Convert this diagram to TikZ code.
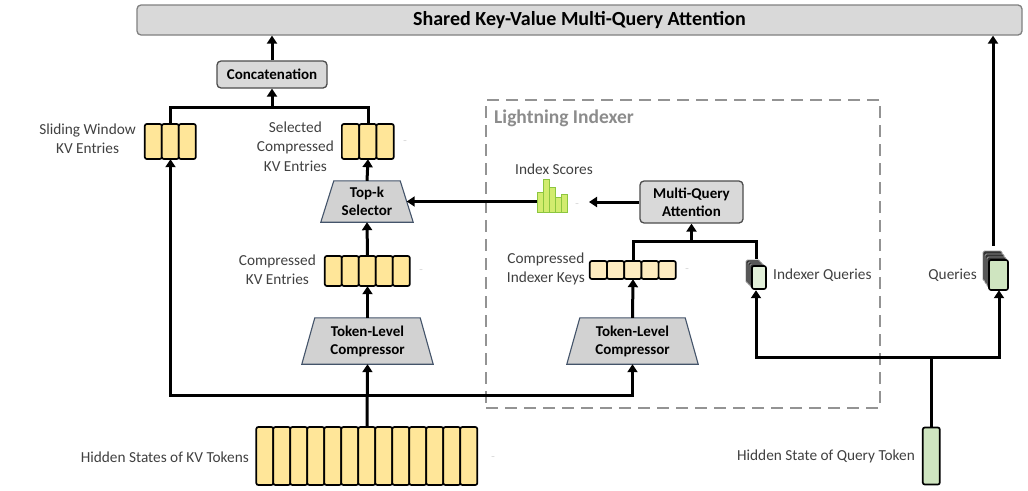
\documentclass[tikz,border=0pt]{standalone}
\usepackage{fontspec}
\setmainfont{Carlito}
\usetikzlibrary{calc,arrows.meta}
\definecolor{kvfill}{HTML}{FFE699}
\definecolor{ikfill}{HTML}{FDEBC0}
\definecolor{qfill}{HTML}{CFE5C0}
\definecolor{iqfill}{HTML}{E2F0D9}
\definecolor{barfill}{HTML}{D2EC6E}
\definecolor{barline}{HTML}{8CC63F}
\definecolor{trapline}{HTML}{44546A}
\definecolor{labelc}{HTML}{404040}
\newcommand\cellrow[7]{% name, n, cx, cy, cell width, height, fill
  \node[inner sep=0pt, minimum width={#2*#5 pt}, minimum height={#6 pt}] (#1) at (#3,#4) {};
  \foreach \i in {1,...,#2} {
    \draw[cellbox, fill=#7] ($(#1.west)+({(\i-1)*#5},{-#6/2})$) rectangle ++(#5,#6);
  }
}
\newcommand\trapshape[2]{% node name, inset
  \draw[trapbox] (#1.south west) -- (#1.south east) -- ($(#1.north east)+(-#2,0)$) -- ($(#1.north west)+(#2,0)$) -- cycle;
}
\begin{document}
\begin{tikzpicture}[x=1pt,y=-1pt,
  lbl/.style={text=labelc, font=\fontsize{15.3}{19.3}\selectfont, align=center, inner sep=0pt},
  box/.style={draw=black!70, fill=gray!30, rounded corners=4pt, line width=1.3pt, font=\bfseries\fontsize{15}{18}\selectfont, align=center, inner sep=0pt},
  trapbox/.style={draw=trapline, fill=gray!35, line width=1.1pt},
  traptext/.style={font=\bfseries\fontsize{15}{18}\selectfont, align=center, inner sep=0pt},
  cellbox/.style={draw=black, line width=1.7pt, rounded corners=2pt},
  wire/.style={line width=3pt},
  arr/.style={line width=3pt, -{Triangle[length=8pt,width=10pt]}},
  tick/.style={text=gray!55, font=\fontsize{8}{8}\selectfont, inner sep=0pt}
]
\useasboundingbox (0,0) rectangle (1028,490);

% top bar
\node[box, draw=black!50, minimum width=885pt, minimum height=30pt] (mqa) at (579.5,20) {\fontsize{20}{22}\selectfont Shared Key-Value Multi-Query Attention};
\node[box, minimum width=110pt, minimum height=27pt] (concat) at (272,74.5) {Concatenation};

% lightning indexer frame
\node[draw=gray!85, line width=2.4pt, dash pattern=on 12pt off 7pt, minimum width=394pt, minimum height=308pt, inner sep=0pt] (li) at (683,254) {};
\node[anchor=west, text=gray!90, font=\bfseries\fontsize{19.5}{22}\selectfont, inner sep=0pt] (lilabel) at (494,118) {Lightning Indexer};

% cell rows
\cellrow{sw}{3}{170.5}{141.5}{17}{35}{kvfill}
\cellrow{sel}{3}{368}{141.5}{17.3}{35}{kvfill}
\cellrow{ckv}{5}{367.5}{271}{17}{30}{kvfill}
\cellrow{hid}{13}{367}{456}{17}{58}{kvfill}
\cellrow{ikeys}{5}{633}{270}{17.2}{18}{ikfill}
\cellrow{qtok}{1}{931.5}{456}{17}{57}{qfill}

% trapezoids
\node[minimum width=92pt, minimum height=41pt, inner sep=0pt] (topk) at (367,201.5) {};
\trapshape{topk}{13}
\node[traptext] (topkt) at (topk) {Top-k\\Selector};
\node[minimum width=131pt, minimum height=46pt, inner sep=0pt] (lcomp) at (367.5,341) {};
\trapshape{lcomp}{13}
\node[traptext] (lcompt) at (lcomp) {Token-Level\\Compressor};
\node[minimum width=131pt, minimum height=46pt, inner sep=0pt] (rcomp) at (632.5,341) {};
\trapshape{rcomp}{13}
\node[traptext] (rcompt) at (rcomp) {Token-Level\\Compressor};

% indexer MQA
\node[box, minimum width=103pt, minimum height=42pt] (imqa) at (691.5,202) {Multi-Query\\Attention};

% index scores bars
\node[minimum width=30pt, minimum height=33pt, inner sep=0pt] (scores) at (552,196) {};
\foreach \bx/\bt in {537/192, 543/179, 549/187, 555/197, 561/194} {
  \draw[draw=barline, fill=barfill, line width=1pt] (\bx,212) rectangle (\bx+6,\bt);
}
\node[lbl] (scoreslbl) at (554,169) {Index Scores};

% query stacks
\node[minimum width=21pt, minimum height=31pt, inner sep=0pt] (iq) at (756,274.5) {};
\foreach \d in {6,4,2} {
  \draw[fill=black!80, draw=black!40, line width=0.8pt, rounded corners=1.5pt] (752-\d,266-\d) rectangle ++(14,23);
}
\draw[fill=iqfill, draw=black, line width=1.6pt, rounded corners=2pt] (752,266) rectangle (766,289);
\node[minimum width=25pt, minimum height=44pt, inner sep=0pt] (q) at (996,268) {};
\foreach \d in {9,6,3} {
  \draw[fill=black!80, draw=black!40, line width=0.8pt, rounded corners=1.5pt] (989-\d/1.5,260-\d) rectangle ++(19,30);
}
\draw[fill=qfill, draw=black, line width=1.6pt, rounded corners=2pt] (989,260) rectangle (1008,290);

% labels
\node[lbl, anchor=east] (swl) at (136,138.5) {Sliding Window\\KV Entries};
\node[lbl, anchor=east] (sell) at (334,146.5) {Selected\\Compressed\\KV Entries};
\node[lbl, anchor=east] (ckvl) at (316,270) {Compressed\\KV Entries};
\node[lbl, anchor=east] (hidl) at (249,457) {Hidden States of KV Tokens};
\node[lbl, anchor=east] (ikl) at (585,269) {Compressed\\Indexer Keys};
\node[lbl, anchor=west] (iql) at (773,275) {Indexer Queries};
\node[lbl, anchor=east] (ql) at (977,275) {Queries};
\node[lbl, anchor=east] (qtl) at (915,456) {Hidden State of Query Token};

% tiny marks
\node[tick] (t1) at (405,142) {–};
\node[tick] (t2) at (421,271) {–};
\node[tick] (t3) at (493,458) {–};
\node[tick] (t4) at (577,205) {–};
\node[tick] (t5) at (687,270) {–};

% connectors
\coordinate (bus1) at (272,107);
\draw[wire] (sw.north) |- (bus1) -| (sel.north);
\draw[arr] (bus1) -- (concat.south);
\draw[arr] (concat.north) -- (concat.north |- mqa.south);
\draw[arr] (topk.north) -- (sel.south);
\draw[arr] (ckv.north) -- (topk.south);
\draw[arr] (lcomp.north) -- (ckv.south);
\draw[arr] (hid.north) -- (lcomp.south);
\coordinate (hb) at (367,395);
\draw[arr] (hb) -| (sw.south);
\draw[arr] (hb) -| (rcomp.south);
\draw[arr] (rcomp.north) -- (ikeys.south);
\coordinate (topkR) at ($(topk.east)+(-6.5,0)$);
\draw[arr] (scores.west |- topkR) -- (topkR);
\coordinate (scoresin) at (589,202);
\draw[arr] (imqa.west) -- (scoresin);
\coordinate (ibus) at (691.5,241);
\draw[wire] (ikeys.north) |- (ibus) -| (iq.north);
\draw[arr] (ibus) -- (imqa.south);
\coordinate (qb) at (931.5,357);
\coordinate (qin) at ($(q.south)+(3,0)$);
\coordinate (qout) at ($(q.north)+(-3,0)$);
\draw[wire] (qtok.north) -- (qb);
\draw[arr] (qb) -| (qin);
\draw[arr] (qb) -| (iq.south);
\draw[arr] (qout) -- (qout |- mqa.south);
\end{tikzpicture}
\end{document}
